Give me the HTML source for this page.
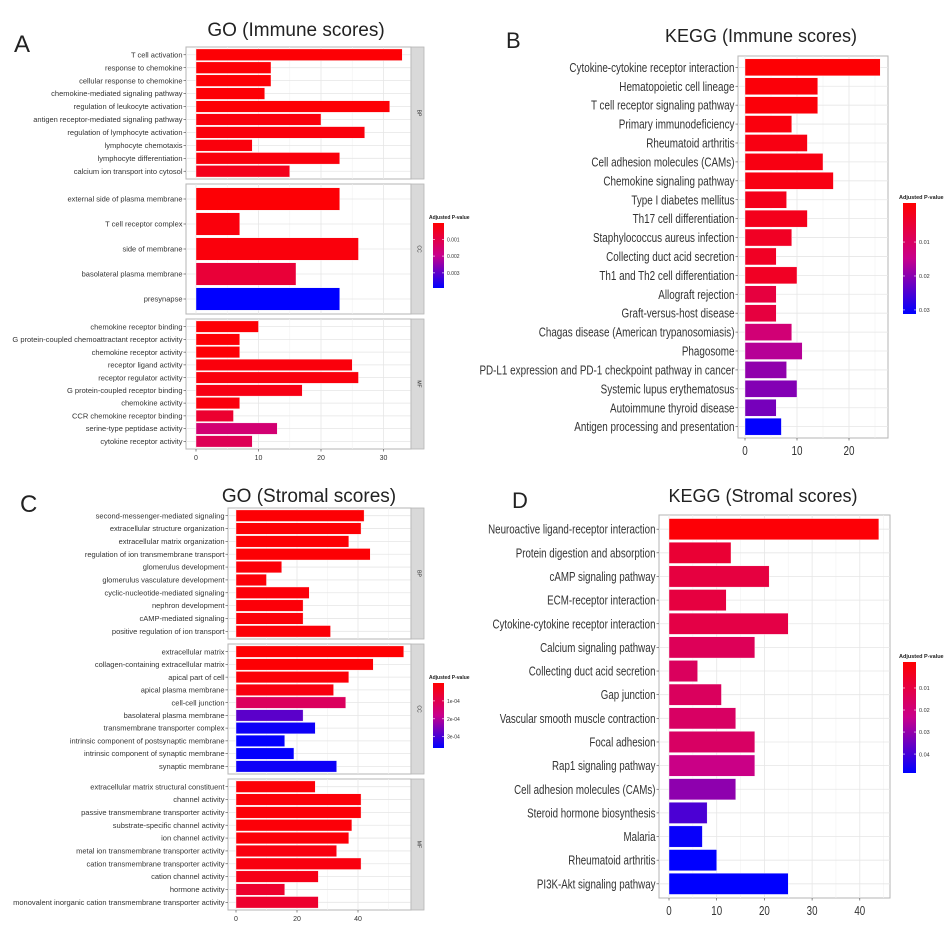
<!DOCTYPE html>
<html><head><meta charset="utf-8">
<style>
html,body{margin:0;padding:0;background:#fff;}
svg{display:block;font-family:"Liberation Sans",sans-serif;}
</style></head>
<body>
<svg id="fig" width="945" height="932" viewBox="0 0 945 932" xmlns="http://www.w3.org/2000/svg">
<text x="14" y="52" font-size="24" fill="#222">A</text>
<text x="506" y="48" font-size="22" fill="#222">B</text>
<text x="20" y="512" font-size="24" fill="#222">C</text>
<text x="512" y="508" font-size="22" fill="#222">D</text>
<text x="296" y="36" font-size="19" fill="#222" text-anchor="middle">GO (Immune scores)</text>
<text x="761" y="42" font-size="18" fill="#222" text-anchor="middle">KEGG (Immune scores)</text>
<text x="309" y="502" font-size="19" fill="#222" text-anchor="middle">GO (Stromal scores)</text>
<text x="763" y="502" font-size="18" fill="#222" text-anchor="middle">KEGG (Stromal scores)</text>
</svg>
<script>
// ---------- Panel A data ----------
const aBPLabels = ["T cell activation","response to chemokine","cellular response to chemokine","chemokine-mediated signaling pathway","regulation of leukocyte activation","antigen receptor-mediated signaling pathway","regulation of lymphocyte activation","lymphocyte chemotaxis","lymphocyte differentiation","calcium ion transport into cytosol"];
const aBPCounts = [33,12,12,11,31,20,27,9,23,15];
const aBPPvals = [0.0001,0.0001,0.0001,0.0001,0.0001,0.0002,0.0002,0.0002,0.0002,0.0004];
const aCCLabels = ["external side of plasma membrane","T cell receptor complex","side of membrane","basolateral plasma membrane","presynapse"];
const aCCCounts = [23,7,26,16,23];
const aCCPvals = [0.0001,0.0002,0.0002,0.0008,0.0039];
const aMFLabels = ["chemokine receptor binding","G protein-coupled chemoattractant receptor activity","chemokine receptor activity","receptor ligand activity","receptor regulator activity","G protein-coupled receptor binding","chemokine activity","CCR chemokine receptor binding","serine-type peptidase activity","cytokine receptor activity"];
const aMFCounts = [10,7,7,25,26,17,7,6,13,9];
const aMFPvals = [0.0001,0.0001,0.0001,0.0002,0.0002,0.0003,0.0002,0.0007,0.0016,0.0012];
const aTicks = [0,10,20,30];
const aLegendTicks = [0.001,0.002,0.003];
const aLegendText = ["0.001","0.002","0.003"];
// ---------- Panel C data ----------
const cBPLabels = ["second-messenger-mediated signaling","extracellular structure organization","extracellular matrix organization","regulation of ion transmembrane transport","glomerulus development","glomerulus vasculature development","cyclic-nucleotide-mediated signaling","nephron development","cAMP-mediated signaling","positive regulation of ion transport"];
const cBPCounts = [42,41,37,44,15,10,24,22,22,31];
const cBPPvals = [0.000005,0.000005,0.000005,0.000005,0.00001,0.00001,0.00001,0.00001,0.00001,0.00001];
const cCCLabels = ["extracellular matrix","collagen-containing extracellular matrix","apical part of cell","apical plasma membrane","cell-cell junction","basolateral plasma membrane","transmembrane transporter complex","intrinsic component of postsynaptic membrane","intrinsic component of synaptic membrane","synaptic membrane"];
const cCCCounts = [55,45,37,32,36,22,26,16,19,33];
const cCCPvals = [0.000002,0.000005,0.00001,0.00002,0.00012,0.00028,0.00035,0.00036,0.00036,0.00035];
const cMFLabels = ["extracellular matrix structural constituent","channel activity","passive transmembrane transporter activity","substrate-specific channel activity","ion channel activity","metal ion transmembrane transporter activity","cation transmembrane transporter activity","cation channel activity","hormone activity","monovalent inorganic cation transmembrane transporter activity"];
const cMFCounts = [26,41,41,38,37,33,41,27,16,27];
const cMFPvals = [0.00001,0.00001,0.00001,0.00001,0.00001,0.00002,0.00002,0.00003,0.00006,0.00006];
const cTicks = [0,20,40];
const cLegendTicks = [0.0001,0.0002,0.0003];
const cLegendText = ["1e-04","2e-04","3e-04"];
// ---------- Panel B data ----------
const bLabels = ["Cytokine-cytokine receptor interaction","Hematopoietic cell lineage","T cell receptor signaling pathway","Primary immunodeficiency","Rheumatoid arthritis","Cell adhesion molecules (CAMs)","Chemokine signaling pathway","Type I diabetes mellitus","Th17 cell differentiation","Staphylococcus aureus infection","Collecting duct acid secretion","Th1 and Th2 cell differentiation","Allograft rejection","Graft-versus-host disease","Chagas disease (American trypanosomiasis)","Phagosome","PD-L1 expression and PD-1 checkpoint pathway in cancer","Systemic lupus erythematosus","Autoimmune thyroid disease","Antigen processing and presentation"];
const bCounts = [26,14,14,9,12,15,17,8,12,9,6,10,6,6,9,11,8,10,6,7];
const bPvals = [0.0005,0.001,0.001,0.0015,0.002,0.002,0.002,0.003,0.003,0.004,0.004,0.004,0.007,0.007,0.013,0.017,0.020,0.021,0.022,0.031];
const bTicks = [0,10,20];
const bLegendTicks = [0.01,0.02,0.03];
const bLegendText = ["0.01","0.02","0.03"];
// ---------- Panel D data ----------
const dLabels = ["Neuroactive ligand-receptor interaction","Protein digestion and absorption","cAMP signaling pathway","ECM-receptor interaction","Cytokine-cytokine receptor interaction","Calcium signaling pathway","Collecting duct acid secretion","Gap junction","Vascular smooth muscle contraction","Focal adhesion","Rap1 signaling pathway","Cell adhesion molecules (CAMs)","Steroid hormone biosynthesis","Malaria","Rheumatoid arthritis","PI3K-Akt signaling pathway"];
const dCounts = [44,13,21,12,25,18,6,11,14,18,18,14,8,7,10,25];
const dPvals = [0.001,0.009,0.011,0.011,0.012,0.015,0.016,0.016,0.017,0.017,0.023,0.031,0.039,0.047,0.048,0.048];
const dTicks = [0,10,20,30,40];
const dLegendTicks = [0.01,0.02,0.03,0.04];
const dLegendText = ["0.01","0.02","0.03","0.04"];

const NS = "http://www.w3.org/2000/svg";
const svg = document.getElementById("fig");
function mk(tag, attrs, parent){
  const e = document.createElementNS(NS, tag);
  for (const k in attrs) e.setAttribute(k, attrs[k]);
  (parent||svg).appendChild(e);
  return e;
}
function lerp(a,b,t){return Math.round(a+(b-a)*t);}
function colorFor(p, pmin, pmax){
  let t = (p-pmin)/(pmax-pmin); t = Math.max(0,Math.min(1,t));
  const s = [[255,0,0],[200,0,140],[0,0,255]];
  let a,b,u;
  if (t<0.5){a=s[0];b=s[1];u=t/0.5;} else {a=s[1];b=s[2];u=(t-0.5)/0.5;}
  return "rgb("+lerp(a[0],b[0],u)+","+lerp(a[1],b[1],u)+","+lerp(a[2],b[2],u)+")";
}

function drawFacet(opt, labels, counts, pvals){
  const g = mk("g",{});
  
  
  const xs = v => opt.x0 + v*opt.k;
  mk("rect",{x:opt.left,y:opt.top,width:opt.right-opt.left,height:opt.bottom-opt.top,fill:"#fff",stroke:"#b5b5b5","stroke-width":1},g);
  for (let i=0;i<opt.ticks.length;i++){
    const tv = opt.ticks[i];
    mk("line",{x1:xs(tv),x2:xs(tv),y1:opt.top,y2:opt.bottom,stroke:"#e6e6e6","stroke-width":0.8},g);
    const mv = tv + opt.step/2;
    if (xs(mv) < opt.right) mk("line",{x1:xs(mv),x2:xs(mv),y1:opt.top,y2:opt.bottom,stroke:"#f2f2f2","stroke-width":0.6},g);
  }
  const n = labels.length;
  const sp = (opt.bottom-opt.top)/(n-1+1.2);
  for (let i=0;i<n;i++){
    const cy = opt.top + (0.6+i)*sp;
    mk("line",{x1:opt.left,x2:opt.right,y1:cy,y2:cy,stroke:"#e6e6e6","stroke-width":0.8},g);
  }
  for (let i=0;i<n;i++){
    const cy = opt.top + (0.6+i)*sp;
    const h = sp*0.9;
    const bar = mk("rect",{x:xs(0),y:cy-h/2,width:xs(counts[i])-xs(0),height:h,fill:colorFor(pvals[i],opt.pmin,opt.pmax),stroke:"#fff","stroke-width":0.4},g);
    
    
    mk("line",{x1:opt.left-2.5,x2:opt.left,y1:cy,y2:cy,stroke:"#444","stroke-width":0.6},g);
    const t = mk("text",{transform:"translate("+(opt.left-3.5)+","+(cy+opt.fs*0.35)+") scale("+opt.sx+",1)","font-size":opt.fs,"text-anchor":"end",fill:"#333"},g);
    t.textContent = labels[i];
    
    
  }
  if (opt.strip){
    const s = mk("rect",{x:opt.right,y:opt.top,width:13,height:opt.bottom-opt.top,fill:"#d9d9d9",stroke:"#b5b5b5","stroke-width":0.8},g);
    
    
    const cy=(opt.top+opt.bottom)/2, cx=opt.right+6.5;
    const st = mk("text",{x:cx,y:cy,"font-size":5,"text-anchor":"middle",fill:"#333",transform:"rotate(90 "+cx+" "+cy+")"},g);
    st.textContent = opt.strip;
    
    
  }
  if (opt.axis){
    for (let i=0;i<opt.ticks.length;i++){
      const x = xs(opt.ticks[i]);
      mk("line",{x1:x,x2:x,y1:opt.bottom,y2:opt.bottom+2.5,stroke:"#444","stroke-width":0.6},g);
      const tt = mk("text",{transform:"translate("+x+","+(opt.bottom+4+opt.tfs)+") scale("+opt.sx+",1)","font-size":opt.tfs,"text-anchor":"middle",fill:"#333"},g);
      tt.textContent = String(opt.ticks[i]);
      
      
    }
  }
}

function drawLegend(opt, ticks, texts){
  const g = mk("g",{});
  
  
  const id = opt.name+"-grad";
  const defs = mk("defs",{},g);
  const lg = mk("linearGradient",{id:id,x1:0,y1:0,x2:0,y2:1},defs);
  mk("stop",{offset:"0",  "stop-color":"#ff0000"},lg);
  mk("stop",{offset:"0.5","stop-color":"#c8008c"},lg);
  mk("stop",{offset:"1",  "stop-color":"#0000ff"},lg);
  const tl = mk("text",{x:opt.x-4,y:opt.y-4,"font-size":opt.fs,fill:"#222","font-weight":"bold"},g);
  tl.textContent = "Adjusted P-value";
  
  
  mk("rect",{x:opt.x,y:opt.y,width:opt.w,height:opt.h,fill:"url(#"+id+")"},g);
  for (let i=0;i<ticks.length;i++){
    const y = opt.y + (ticks[i]-opt.pmin)/(opt.pmax-opt.pmin)*opt.h;
    mk("line",{x1:opt.x,x2:opt.x+2,y1:y,y2:y,stroke:"#fff","stroke-width":0.6},g);
    mk("line",{x1:opt.x+opt.w-2,x2:opt.x+opt.w,y1:y,y2:y,stroke:"#fff","stroke-width":0.6},g);
    const t = mk("text",{x:opt.x+opt.w+3,y:y+opt.fs*0.4,"font-size":opt.fs,fill:"#333"},g);
    t.textContent = texts[i];
    
    
  }
}

const aCommon = {left:186,right:411,x0:196,k:6.25,step:10,ticks:aTicks,fs:7.5,sx:1,tfs:7,pmin:0.00003,pmax:0.0039};
drawFacet(Object.assign({},aCommon,{name:"a-facet-bp",top:47,bottom:179,strip:"BP"}), aBPLabels,aBPCounts,aBPPvals);
drawFacet(Object.assign({},aCommon,{name:"a-facet-cc",top:184,bottom:314,strip:"CC"}), aCCLabels,aCCCounts,aCCPvals);
drawFacet(Object.assign({},aCommon,{name:"a-facet-mf",top:319,bottom:449,strip:"MF",axis:true}), aMFLabels,aMFCounts,aMFPvals);
drawLegend({name:"a-legend",x:433,y:223,w:11,h:65,fs:5,pmin:0.00003,pmax:0.0039}, aLegendTicks, aLegendText);

const cCommon = {left:228,right:411,x0:236,k:3.05,step:20,ticks:cTicks,fs:7.5,sx:1,tfs:7,pmin:0,pmax:0.000363};
drawFacet(Object.assign({},cCommon,{name:"c-facet-bp",top:508,bottom:639,strip:"BP"}), cBPLabels,cBPCounts,cBPPvals);
drawFacet(Object.assign({},cCommon,{name:"c-facet-cc",top:644,bottom:774,strip:"CC"}), cCCLabels,cCCCounts,cCCPvals);
drawFacet(Object.assign({},cCommon,{name:"c-facet-mf",top:779,bottom:910,strip:"MF",axis:true}), cMFLabels,cMFCounts,cMFPvals);
drawLegend({name:"c-legend",x:433,y:683,w:11,h:65,fs:5,pmin:0,pmax:0.000363}, cLegendTicks, cLegendText);

drawFacet({name:"b-plot",left:738,right:888,top:56,bottom:438,x0:745,k:5.2,step:10,ticks:bTicks,fs:13,sx:0.76,tfs:13,pmin:0,pmax:0.0312,axis:true}, bLabels,bCounts,bPvals);
drawLegend({name:"b-legend",x:903,y:203,w:13,h:111,fs:5.5,pmin:-0.0015,pmax:0.0312}, bLegendTicks, bLegendText);

drawFacet({name:"d-plot",left:659,right:890,top:515,bottom:898,x0:669,k:4.77,step:10,ticks:dTicks,fs:13,sx:0.75,tfs:13,pmin:0,pmax:0.048,axis:true}, dLabels,dCounts,dPvals);
drawLegend({name:"d-legend",x:903,y:662,w:13,h:111,fs:5.5,pmin:-0.0018,pmax:0.0486}, dLegendTicks, dLegendText);
</script>
</body></html>
